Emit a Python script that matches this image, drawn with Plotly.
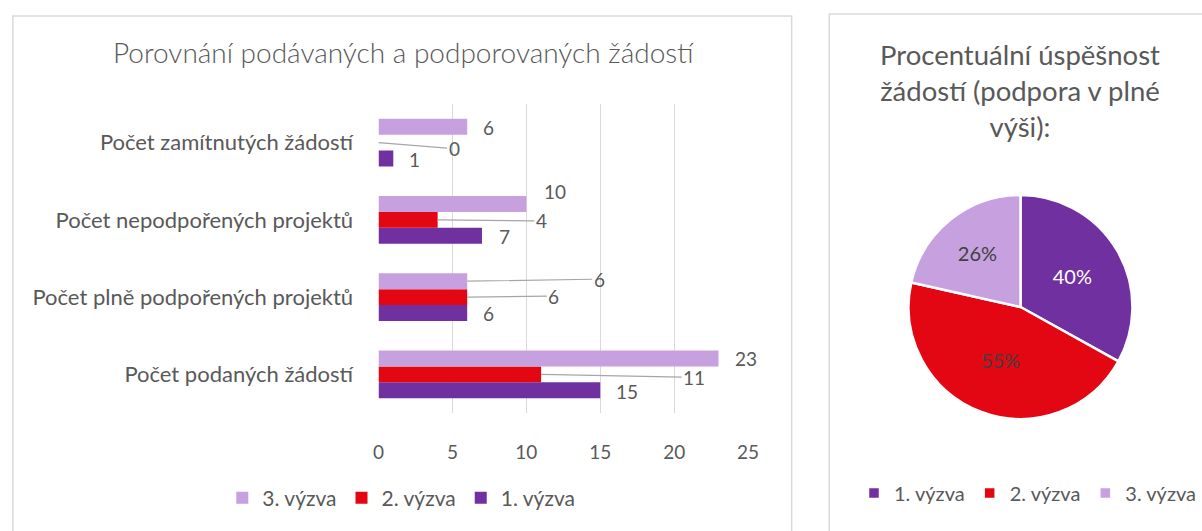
import plotly.graph_objects as go

# ---------------- data ----------------
categories = [
    "Počet podaných žádostí",
    "Počet plně podpořených projektů",
    "Počet nepodpořených projektů",
    "Počet zamítnutých žádostí",
]
series_names = ["1. výzva", "2. výzva", "3. výzva"]
vyzva1 = [15, 6, 7, 1]
vyzva2 = [11, 6, 4, 0]
vyzva3 = [23, 6, 10, 6]
x_ticks = [0, 5, 10, 15, 20, 25]

pie_labels = ["1. výzva", "2. výzva", "3. výzva"]
pie_values = [40, 55, 26]
pie_text = ["40%", "55%", "26%"]

bar_title = "Porovnání podávaných a podporovaných žádostí"
pie_title = "Procentuální úspěšnost<br>žádostí (podpora v plné<br>výši):"

# ---------------- style ----------------
colors = ["#7030A0", "#E30613", "#C6A0DF"]
txt = "#595959"
grid = "#D9D9D9"
FONT = "Lato"
W, H = 1202, 531
SX = 1202 / 1211.0   # observed horizontal compression of the capture
BARGAP = 0.38

# label offsets (pixels: dx, dy from bar end to label centre, leader line?)
label_style = {
    0: [(27, 1, False), (21, 0, False), (22, 1, False), (21, 1, False)],
    1: [(152, 3, True), (86, -1, True), (103, 1, True), (75, 6, True)],
    2: [(27, 0, False), (131, -2, True), (28, -12, False), (21, 1, False)],
}

def px_x(p):
    return p / SX / W

def px_y(p):
    return 1 - p / H

fig = go.Figure()
series = [vyzva1, vyzva2, vyzva3]
for name, vals, col in zip(series_names, series, colors):
    fig.add_trace(go.Bar(
        y=categories, x=vals, name=name, orientation="h",
        marker=dict(color=col, line=dict(width=0)),
        legend="legend", hoverinfo="x+name",
    ))

w = (1 - BARGAP) / 3
for k, vals in enumerate(series):
    for i, v in enumerate(vals):
        dx, dy, leader = label_style[k][i]
        fig.add_annotation(
            x=v, y=i + (k - 1) * w, xref="x", yref="y",
            text=str(v), showarrow=True, ax=dx / SX, ay=dy,
            arrowhead=0, arrowwidth=1.2, standoff=0, startstandoff=0,
            arrowcolor="#A6A6A6" if leader else "rgba(0,0,0,0)",
            font=dict(family=FONT, size=19, color=txt),
        )

fig.add_trace(go.Pie(
    labels=pie_labels, values=pie_values, text=pie_text,
    textinfo="text", sort=False, direction="clockwise", rotation=0,
    marker=dict(colors=colors, line=dict(color="white", width=2.5)),
    textfont=dict(family=FONT, size=20, color=["white", "#404040", "#404040"]),
    insidetextorientation="horizontal",
    domain=dict(x=[px_x(911), px_x(1137)], y=[px_y(419), px_y(195)]),
    legend="legend2", hoverinfo="label+text",
))

# panel borders
fig.add_shape(type="rect", xref="paper", yref="paper",
              x0=px_x(7), x1=px_x(793), y0=px_y(540), y1=px_y(16),
              line=dict(color=grid, width=1.5), fillcolor="rgba(0,0,0,0)", layer="below")
fig.add_shape(type="rect", xref="paper", yref="paper",
              x0=px_x(831), x1=px_x(1215), y0=px_y(540), y1=px_y(14),
              line=dict(color=grid, width=1.5), fillcolor="rgba(0,0,0,0)", layer="below")

fig.add_annotation(xref="paper", yref="paper", x=px_x(401), y=px_y(52),
                   xanchor="center", yanchor="middle",
                   text=bar_title, showarrow=False,
                   font=dict(family=FONT, size=28, color=txt, weight=300))
fig.add_annotation(xref="paper", yref="paper", x=px_x(1023), y=px_y(90),
                   xanchor="center", yanchor="middle",
                   text=pie_title, showarrow=False,
                   font=dict(family=FONT, size=27.5, color=txt))

fig.update_layout(
    width=W, height=H,
    margin=dict(l=0, r=0, t=0, b=0),
    paper_bgcolor="white", plot_bgcolor="white",
    barmode="group", bargap=BARGAP, bargroupgap=0,
    font=dict(family=FONT, color=txt),
    xaxis=dict(domain=[px_x(376), px_x(749)], range=[0, 25],
               tickvals=x_ticks, showgrid=True, gridcolor=grid, gridwidth=1,
               zeroline=False, showline=False,
               tickfont=dict(family=FONT, size=19, color=txt),
               ticks="outside", ticklen=22, tickcolor="rgba(0,0,0,0)"),
    yaxis=dict(domain=[px_y(413), px_y(104)], type="category",
               categoryorder="array", categoryarray=categories,
               showgrid=False, zeroline=False, showline=False,
               tickfont=dict(family=FONT, size=22, color=txt),
               ticks="outside", ticklen=int(20 / SX), tickcolor="rgba(0,0,0,0)"),
    legend=dict(orientation="h", x=px_x(399), y=px_y(498), xanchor="center",
                yanchor="middle", traceorder="reversed",
                font=dict(family=FONT, size=21, color=txt), itemwidth=30),
    legend2=dict(orientation="h", x=px_x(1032), y=px_y(493), xanchor="center",
                 yanchor="middle", traceorder="normal",
                 font=dict(family=FONT, size=20, color=txt), itemwidth=30),
    showlegend=True,
)

fig.write_html(
    "out.html",
    config={"displayModeBar": False},
    post_script=(
        "document.documentElement.style.margin='0';"
        "document.documentElement.style.overflow='hidden';"
        "document.body.style.margin='0';document.body.style.padding='0';"
        "document.body.style.overflow='hidden';"
    ),
)
